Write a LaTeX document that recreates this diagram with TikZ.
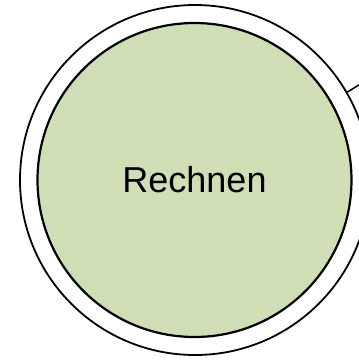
\documentclass[tikz,border=0pt]{standalone}
\usepackage{fontspec}
\setmainfont{Liberation Sans}
\definecolor{leafgreen}{RGB}{207,222,180}
\tikzset{
  ring/.style={circle, draw=black, line width=1.8pt, fill=white, inner sep=0pt},
  core/.style={circle, draw=black, line width=2.2pt, fill=leafgreen, inner sep=0pt,
    font=\fontsize{36}{42}\selectfont},
  link/.style={draw=black, line width=1.5pt}
}
\begin{document}
\begin{tikzpicture}[x=1pt,y=-1pt]
  \useasboundingbox (0,0) rectangle (359,360);
  \begin{scope}
    \clip (0,0) rectangle (359,360);
    \node[ring, minimum size=350pt] (outer) at (195,180) {};
    \coordinate (e1) at (362,83);
    \coordinate (e2) at (361,106);
    \draw[link] (outer.30.4) -- (e1);
    \draw[link] (outer.19.5) -- (e2);
    \node[core, minimum size=314pt] (inner) at (194.5,180) {Rechnen};
  \end{scope}
\end{tikzpicture}
\end{document}
